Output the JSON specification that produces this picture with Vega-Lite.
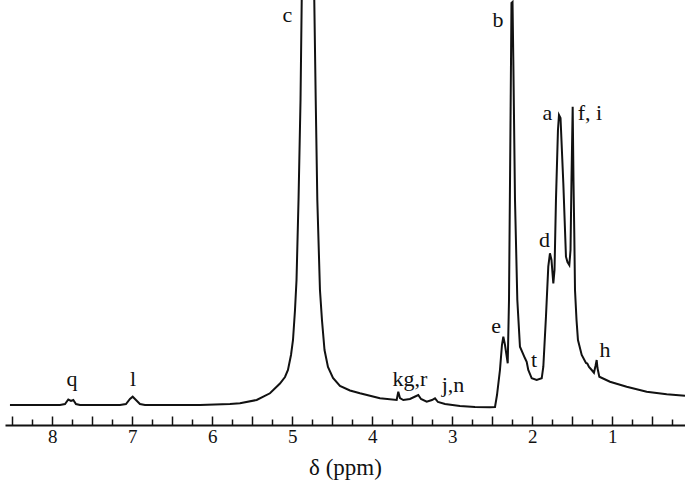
{
  "$schema": "https://vega.github.io/schema/vega-lite/v6.json",
  "width": 680,
  "height": 425,
  "autosize": {"type": "none"},
  "padding": {"left": 5, "top": 0, "right": 0, "bottom": 71},
  "background": "white",
  "config": {"view": {"stroke": null}},
  "datasets": {
    "spectrum": [
      {"ppm": 8.528, "intensity": 20},
      {"ppm": 8.153, "intensity": 20},
      {"ppm": 7.903, "intensity": 20},
      {"ppm": 7.840, "intensity": 21},
      {"ppm": 7.799, "intensity": 25.5},
      {"ppm": 7.765, "intensity": 24},
      {"ppm": 7.736, "intensity": 25},
      {"ppm": 7.703, "intensity": 21},
      {"ppm": 7.653, "intensity": 20},
      {"ppm": 7.153, "intensity": 20},
      {"ppm": 7.078, "intensity": 21},
      {"ppm": 7.028, "intensity": 26},
      {"ppm": 6.994, "intensity": 28.3},
      {"ppm": 6.959, "intensity": 25.5},
      {"ppm": 6.903, "intensity": 21},
      {"ppm": 6.840, "intensity": 20},
      {"ppm": 6.153, "intensity": 20},
      {"ppm": 5.778, "intensity": 21},
      {"ppm": 5.653, "intensity": 21.7},
      {"ppm": 5.444, "intensity": 25},
      {"ppm": 5.278, "intensity": 31.7},
      {"ppm": 5.153, "intensity": 41.5},
      {"ppm": 5.090, "intensity": 48},
      {"ppm": 5.053, "intensity": 55},
      {"ppm": 5.015, "intensity": 70},
      {"ppm": 4.990, "intensity": 85},
      {"ppm": 4.965, "intensity": 115},
      {"ppm": 4.946, "intensity": 145},
      {"ppm": 4.921, "intensity": 225},
      {"ppm": 4.896, "intensity": 325},
      {"ppm": 4.881, "intensity": 425},
      {"ppm": 4.878, "intensity": 445},
      {"ppm": 4.728, "intensity": 445},
      {"ppm": 4.724, "intensity": 425},
      {"ppm": 4.706, "intensity": 325},
      {"ppm": 4.686, "intensity": 225},
      {"ppm": 4.653, "intensity": 135},
      {"ppm": 4.628, "intensity": 105},
      {"ppm": 4.596, "intensity": 75},
      {"ppm": 4.553, "intensity": 58},
      {"ppm": 4.490, "intensity": 47},
      {"ppm": 4.403, "intensity": 39},
      {"ppm": 4.278, "intensity": 34.5},
      {"ppm": 4.153, "intensity": 31.7},
      {"ppm": 3.903, "intensity": 26.7},
      {"ppm": 3.694, "intensity": 25},
      {"ppm": 3.674, "intensity": 33.3},
      {"ppm": 3.653, "intensity": 27},
      {"ppm": 3.611, "intensity": 25},
      {"ppm": 3.528, "intensity": 26},
      {"ppm": 3.424, "intensity": 30},
      {"ppm": 3.390, "intensity": 26},
      {"ppm": 3.319, "intensity": 23.3},
      {"ppm": 3.253, "intensity": 25},
      {"ppm": 3.215, "intensity": 26.7},
      {"ppm": 3.178, "intensity": 23},
      {"ppm": 3.090, "intensity": 21},
      {"ppm": 2.903, "intensity": 19},
      {"ppm": 2.715, "intensity": 18},
      {"ppm": 2.528, "intensity": 17.7},
      {"ppm": 2.465, "intensity": 18},
      {"ppm": 2.440, "intensity": 30},
      {"ppm": 2.403, "intensity": 55},
      {"ppm": 2.378, "intensity": 80},
      {"ppm": 2.361, "intensity": 88.3},
      {"ppm": 2.340, "intensity": 80},
      {"ppm": 2.306, "intensity": 61.7},
      {"ppm": 2.290, "intensity": 125},
      {"ppm": 2.274, "intensity": 275},
      {"ppm": 2.259, "intensity": 422},
      {"ppm": 2.246, "intensity": 423},
      {"ppm": 2.236, "intensity": 365},
      {"ppm": 2.215, "intensity": 225},
      {"ppm": 2.186, "intensity": 125},
      {"ppm": 2.153, "intensity": 78.3},
      {"ppm": 2.090, "intensity": 66.7},
      {"ppm": 2.069, "intensity": 63.3},
      {"ppm": 2.049, "intensity": 55},
      {"ppm": 2.006, "intensity": 46.7},
      {"ppm": 1.944, "intensity": 45},
      {"ppm": 1.881, "intensity": 46.7},
      {"ppm": 1.861, "intensity": 58.3},
      {"ppm": 1.828, "intensity": 108.3},
      {"ppm": 1.799, "intensity": 158.3},
      {"ppm": 1.778, "intensity": 171.7},
      {"ppm": 1.759, "intensity": 165},
      {"ppm": 1.736, "intensity": 141.7},
      {"ppm": 1.721, "intensity": 155},
      {"ppm": 1.703, "intensity": 225},
      {"ppm": 1.678, "intensity": 295},
      {"ppm": 1.665, "intensity": 310},
      {"ppm": 1.646, "intensity": 307},
      {"ppm": 1.611, "intensity": 241.7},
      {"ppm": 1.578, "intensity": 168.3},
      {"ppm": 1.559, "intensity": 163},
      {"ppm": 1.536, "intensity": 160},
      {"ppm": 1.521, "intensity": 175},
      {"ppm": 1.509, "intensity": 245},
      {"ppm": 1.494, "intensity": 318.3},
      {"ppm": 1.484, "intensity": 245},
      {"ppm": 1.474, "intensity": 192},
      {"ppm": 1.465, "intensity": 135},
      {"ppm": 1.446, "intensity": 105},
      {"ppm": 1.428, "intensity": 85},
      {"ppm": 1.381, "intensity": 70},
      {"ppm": 1.328, "intensity": 62},
      {"ppm": 1.311, "intensity": 61.5},
      {"ppm": 1.290, "intensity": 58},
      {"ppm": 1.256, "intensity": 55},
      {"ppm": 1.228, "intensity": 52.3},
      {"ppm": 1.209, "intensity": 59},
      {"ppm": 1.194, "intensity": 65},
      {"ppm": 1.184, "intensity": 57},
      {"ppm": 1.161, "intensity": 48.3},
      {"ppm": 1.028, "intensity": 43.3},
      {"ppm": 0.819, "intensity": 38.3},
      {"ppm": 0.569, "intensity": 33.3},
      {"ppm": 0.319, "intensity": 30.7},
      {"ppm": 0.090, "intensity": 29.3}
    ],
    "labels": [
      {"label": "q", "ppm": 7.7525, "intensity": 39},
      {"label": "l", "ppm": 6.99, "intensity": 39},
      {"label": "c", "ppm": 5.0588, "intensity": 403.3},
      {"label": "b", "ppm": 2.4275, "intensity": 398},
      {"label": "a", "ppm": 1.8088, "intensity": 305},
      {"label": "f, i", "ppm": 1.2775, "intensity": 305},
      {"label": "d", "ppm": 1.8463, "intensity": 178.3},
      {"label": "e", "ppm": 2.4525, "intensity": 92},
      {"label": "t", "ppm": 1.9775, "intensity": 58},
      {"label": "h", "ppm": 1.09, "intensity": 68},
      {"label": "kg,r", "ppm": 3.5275, "intensity": 39},
      {"label": "j,n", "ppm": 2.99, "intensity": 33}
    ]
  },
  "resolve": {"axis": {"x": "independent"}},
  "layer": [
    {
      "data": {"name": "spectrum"},
      "mark": {"type": "line", "color": "#111111", "strokeWidth": 2, "clip": true, "interpolate": "linear"},
      "encoding": {
        "x": {
          "field": "ppm",
          "type": "quantitative",
          "scale": {"domain": [0.09, 8.59], "reverse": true, "nice": false, "zero": false},
          "axis": {
            "orient": "bottom",
            "values": [8.5, 8, 7.5, 7, 6.5, 6, 5.5, 5, 4.5, 4, 3.5, 3, 2.5, 2, 1.5, 1, 0.5],
            "labelExpr": "datum.value % 1 === 0 ? format(datum.value, 'd') : ''",
            "labelOverlap": false,
            "labelFlush": false,
            "grid": false,
            "domainColor": "#111111",
            "domainWidth": 2,
            "tickColor": "#111111",
            "tickWidth": 1.5,
            "tickSize": -9,
            "labelFont": "Liberation Serif",
            "labelFontSize": 19,
            "labelColor": "#111111",
            "labelPadding": 11,
            "title": "δ (ppm)",
            "titleFont": "Liberation Serif",
            "titleFontSize": 23,
            "titleFontWeight": "normal",
            "titleColor": "#111111",
            "titlePadding": 10
          }
        },
        "y": {
          "field": "intensity",
          "type": "quantitative",
          "scale": {"domain": [0, 425], "nice": false, "zero": false},
          "axis": null
        }
      }
    },
    {
      "data": {"name": "labels"},
      "mark": {"type": "text", "font": "Liberation Serif", "fontSize": 22, "align": "center", "baseline": "alphabetic", "color": "#111111"},
      "encoding": {
        "x": {
          "field": "ppm",
          "type": "quantitative",
          "axis": {
            "orient": "bottom",
            "values": [8.25, 7.75, 7.25, 6.75, 6.25, 5.75, 5.25, 4.75, 4.25, 3.75, 3.25, 2.75, 2.25, 1.75, 1.25, 0.75, 0.25],
            "labels": false,
            "domain": false,
            "grid": false,
            "title": null,
            "tickColor": "#111111",
            "tickWidth": 1.5,
            "tickSize": -6
          }
        },
        "y": {"field": "intensity", "type": "quantitative"},
        "text": {"field": "label"}
      }
    }
  ]
}
